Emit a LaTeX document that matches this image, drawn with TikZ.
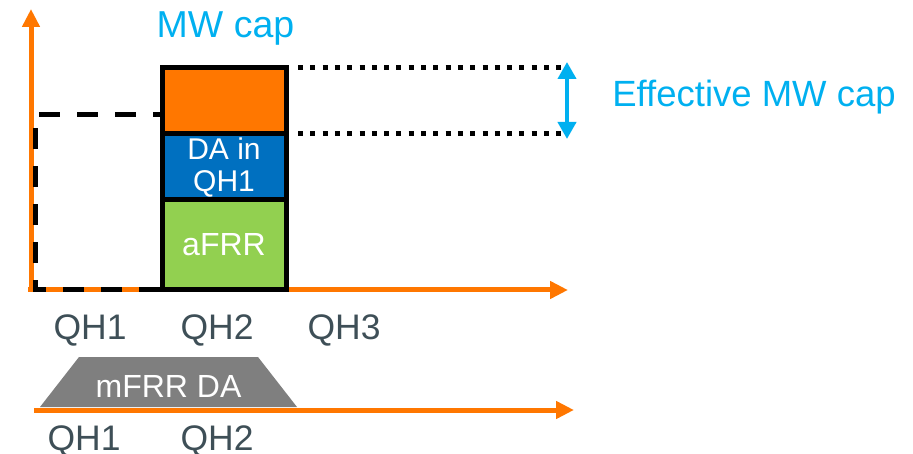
\documentclass[tikz,border=0pt]{standalone}
\usepackage{fontspec}
\setmainfont{Liberation Sans}
\usetikzlibrary{arrows.meta}
\definecolor{axisorange}{HTML}{FF7700}
\definecolor{capcyan}{HTML}{00B0F0}
\definecolor{dablue}{HTML}{0070C0}
\definecolor{afrrgreen}{HTML}{92D050}
\definecolor{trapgray}{HTML}{7F7F7F}
\definecolor{labelgray}{HTML}{3E4F57}
\begin{document}
\begin{tikzpicture}[x=1pt,y=-1pt,
  axisline/.style={draw=axisorange, line width=5pt, -{Triangle[length=18pt,width=17pt]}},
  dashline/.style={draw=black, line width=5pt, dash pattern=on 21pt off 17pt},
  dotline/.style={draw=black, line width=5pt, dash pattern=on 5pt off 7.3pt},
  capline/.style={draw=capcyan, line width=4pt, {Triangle[length=17pt,width=18pt]}-{Triangle[length=17pt,width=18pt]}},
  barbox/.style={draw=black, line width=5pt, minimum width=124pt, inner sep=0pt, text=white, align=center},
  qhlabel/.style={anchor=base, text=labelgray, font=\fontsize{35.5}{40}\selectfont, inner sep=0pt},
  caplabel/.style={anchor=base, text=capcyan, inner sep=0pt}
]
\useasboundingbox (0,0) rectangle (913,454);

% upper axes
\coordinate (yo) at (31,292);
\coordinate (ytip) at (31,9);
\coordinate (xo) at (28,290);
\coordinate (xtip) at (568,290);
\draw[axisline] (yo) -- (ytip);
\draw[axisline] (xo) -- (xtip);

% dashed outline of QH1
\coordinate (d1) at (160,290);
\coordinate (d2) at (35,290);
\coordinate (d3) at (35,115);
\coordinate (d4) at (160,115);
\draw[dashline] (d1) -- (d2) -- (d3) -- (d4);

% dotted lines
\coordinate (t1) at (298,68);
\coordinate (t2) at (563,68);
\coordinate (b1) at (298,134);
\coordinate (b2) at (563,134);
\draw[dotline] (t1) -- (t2);
\draw[dotline] (b1) -- (b2);

% cyan double arrow
\coordinate (ca) at (567,62);
\coordinate (cb) at (567,139);
\draw[capline] (ca) -- (cb);

% stacked boxes
\node[barbox, fill=afrrgreen, minimum height=90pt, font=\fontsize{32}{36}\selectfont] (afrr) at (224,245) {aFRR};
\node[barbox, fill=dablue, minimum height=66pt, font=\fontsize{30}{33}\selectfont] (da) at (224,167) {DA in\\[-1pt]QH1};
\node[barbox, fill=axisorange, minimum height=66pt] (cap) at (224,101) {};

% labels
\node[caplabel, font=\fontsize{37.5}{42}\selectfont] (mwcap) at (225.5,38) {MW cap};
\node[caplabel, font=\fontsize{36.5}{42}\selectfont] (effcap) at (754,107) {Effective MW cap};
\node[qhlabel] (qa1) at (90,340) {QH1};
\node[qhlabel] (qa2) at (217,340) {QH2};
\node[qhlabel] (qa3) at (344,340) {QH3};

% lower timeline
\fill[trapgray] (40,407) -- (79,357) -- (258,357) -- (297,407) -- cycle;
\node[anchor=base, text=white, inner sep=0pt, font=\fontsize{32}{36}\selectfont] (mfrr) at (168.5,397) {mFRR DA};
\coordinate (lo) at (34,410);
\coordinate (ltip) at (574,410);
\draw[axisline] (lo) -- (ltip);
\node[qhlabel] (qb1) at (84,450) {QH1};
\node[qhlabel] (qb2) at (217,450) {QH2};
\end{tikzpicture}
\end{document}
